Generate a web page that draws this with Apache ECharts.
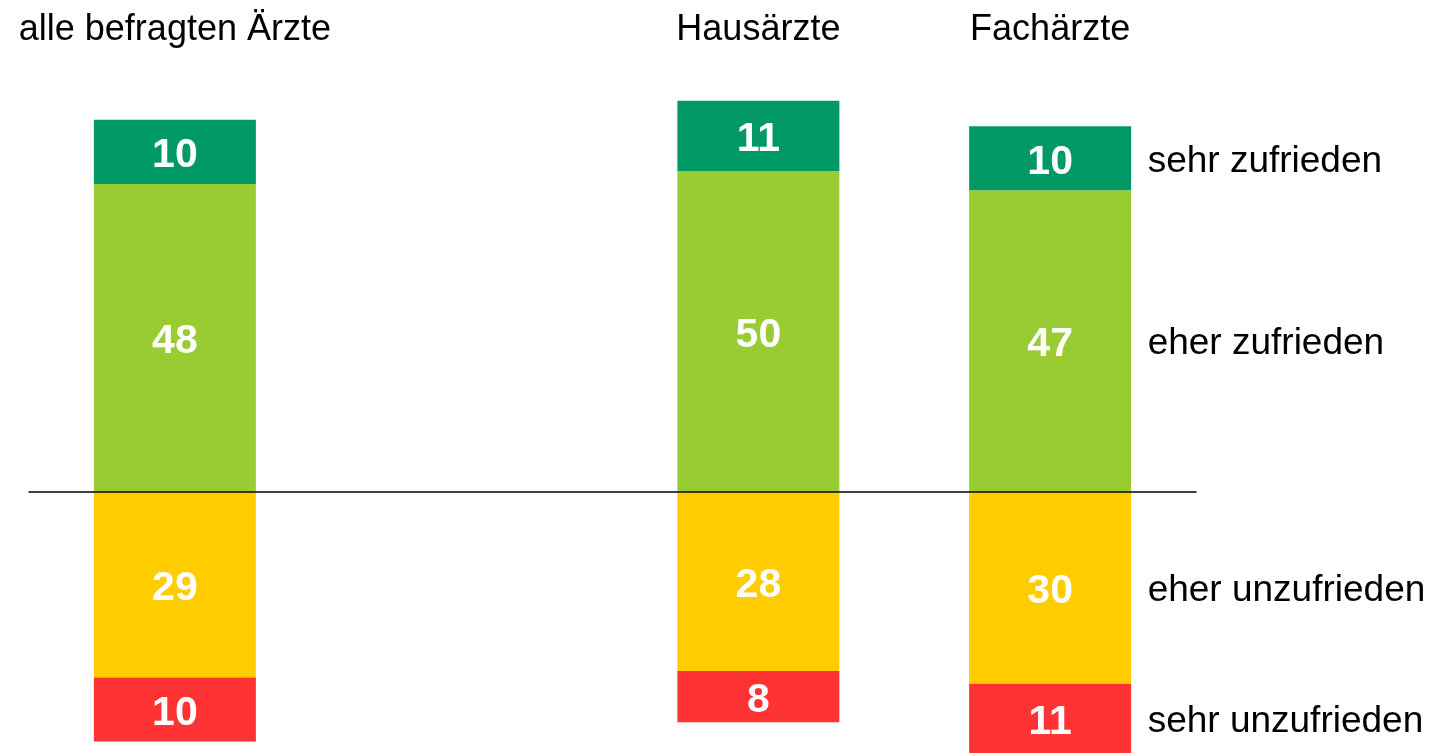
<!DOCTYPE html>
<html>
<head>
<meta charset="utf-8">
<script src="https://cdn.jsdelivr.net/npm/echarts@6/dist/echarts.min.js"></script>
<style>
  html, body { margin: 0; padding: 0; background: #fff; }
  #chart { width: 1429px; height: 753px; }
</style>
</head>
<body>
<div id="chart"></div>
<script>
// Gruppen (leerer Platz zwischen "alle" und "Hausärzte")
const categories = ['alle befragten Ärzte', '', 'Hausärzte', 'Fachärzte']
const levels = ['sehr zufrieden', 'eher zufrieden', 'eher unzufrieden', 'sehr unzufrieden']

const sehrZufrieden = [10, null, 11, 10]
const eherZufrieden = [48, null, 50, 47]
const eherUnzufrieden = [29, null, 28, 30]
const sehrUnzufrieden = [10, null, 8, 11]

const colors = {
  sehrZ: '#009966',
  eherZ: '#99CC33',
  eherU: '#FFCC00',
  sehrU: '#FF3333'
}

const font = "'Liberation Sans', Arial, sans-serif"
const neg = arr => arr.map(v => (v == null ? null : -v))

const valueLabel = {
  show: true,
  position: 'inside',
  offset: [0, 4],
  color: '#fff',
  fontFamily: font,
  fontWeight: 'bold',
  fontSize: 41,
  formatter: p => Math.abs(p.value)
}

function barSeries(name, data, color) {
  return {
    name: name,
    type: 'bar',
    stack: 'total',
    barWidth: 162,
    data: data,
    itemStyle: { color: color },
    label: valueLabel
  }
}

// Beschriftung rechts neben dem letzten Balken, mittig im jeweiligen Segment
const last = categories.length - 1
const sideMids = [
  eherZufrieden[last] + sehrZufrieden[last] / 2,
  eherZufrieden[last] / 2,
  -eherUnzufrieden[last] / 2,
  -(eherUnzufrieden[last] + sehrUnzufrieden[last] / 2)
]

const myChart = echarts.init(document.getElementById('chart'))
const option = {
  backgroundColor: '#fff',
  animation: false,
  grid: { left: 29, right: 233, top: 75, height: 705, outerBoundsMode: 'none', containLabel: false },
  xAxis: [{
    type: 'category',
    data: categories,
    z: 10,
    axisLine: { show: true, onZero: true, lineStyle: { color: '#000', width: 1.5 } },
    axisTick: { show: false },
    axisLabel: { show: false }
  }, {
    type: 'category',
    data: categories,
    position: 'top',
    axisLine: { show: false },
    axisTick: { show: false },
    axisLabel: {
      show: true,
      interval: 0,
      margin: 27,
      color: '#000',
      fontFamily: font,
      fontSize: 36
    }
  }],
  yAxis: {
    type: 'value',
    min: -45,
    max: 65,
    show: false
  },
  series: [
    barSeries(levels[1], eherZufrieden, colors.eherZ),
    barSeries(levels[0], sehrZufrieden, colors.sehrZ),
    barSeries(levels[2], neg(eherUnzufrieden), colors.eherU),
    barSeries(levels[3], neg(sehrUnzufrieden), colors.sehrU),
    {
      type: 'scatter',
      symbolSize: 1,
      itemStyle: { color: 'transparent', opacity: 1 },
      data: levels.map((name, i) => ({ name: name, value: [categories[last], sideMids[i]] })),
      label: {
        show: true,
        position: 'right',
        distance: 97,
        offset: [0, 3],
        color: '#000',
        opacity: 1,
        fontFamily: font,
        fontSize: 37,
        formatter: p => p.name
      }
    }
  ]
}
myChart.setOption(option)
</script>
</body>
</html>
